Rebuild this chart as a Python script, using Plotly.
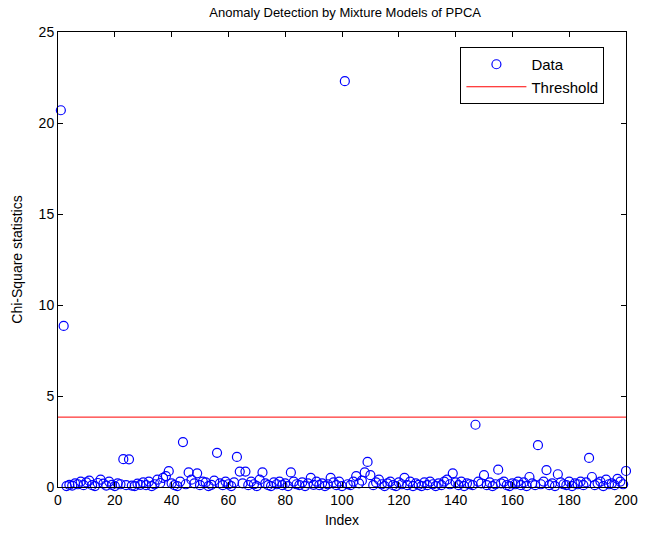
import plotly.graph_objects as go

index = list(range(1, 201))
chi_square = [
    20.7, 8.85, 0.05, 0.12, 0.08, 0.2, 0.15, 0.3, 0.1, 0.25,
    0.35, 0.1, 0.05, 0.22, 0.4, 0.18, 0.08, 0.3, 0.12, 0.05,
    0.2, 0.15, 1.53, 0.1, 1.52, 0.08, 0.05, 0.18, 0.12, 0.25,
    0.1, 0.3, 0.05, 0.15, 0.4, 0.22, 0.5, 0.6, 0.87, 0.2,
    0.1, 0.05, 0.3, 2.47, 0.15, 0.8, 0.4, 0.2, 0.75, 0.1,
    0.3, 0.25, 0.05, 0.12, 0.35, 1.88, 0.2, 0.1, 0.3, 0.15,
    0.05, 0.25, 1.65, 0.85, 0.2, 0.85, 0.1, 0.3, 0.15, 0.05,
    0.4, 0.8, 0.2, 0.1, 0.05, 0.25, 0.15, 0.3, 0.1, 0.2,
    0.05, 0.8, 0.3, 0.15, 0.1, 0.25, 0.05, 0.2, 0.5, 0.12,
    0.3, 0.1, 0.2, 0.05, 0.15, 0.5, 0.25, 0.1, 0.3, 0.05,
    22.3, 0.15, 0.1, 0.3, 0.6, 0.2, 0.35, 0.8, 1.38, 0.65,
    0.1, 0.25, 0.4, 0.15, 0.05, 0.2, 0.3, 0.1, 0.05, 0.25,
    0.15, 0.5, 0.1, 0.3, 0.05, 0.2, 0.12, 0.05, 0.25, 0.1,
    0.3, 0.15, 0.05, 0.2, 0.1, 0.3, 0.4, 0.15, 0.75, 0.25,
    0.1, 0.3, 0.05, 0.2, 0.15, 0.1, 3.42, 0.3, 0.2, 0.65,
    0.1, 0.25, 0.05, 0.15, 0.95, 0.2, 0.3, 0.1, 0.05, 0.2,
    0.15, 0.3, 0.1, 0.25, 0.05, 0.55, 0.2, 0.1, 2.3, 0.15,
    0.3, 0.93, 0.1, 0.2, 0.05, 0.7, 0.25, 0.15, 0.1, 0.3,
    0.05, 0.2, 0.15, 0.3, 0.1, 0.25, 1.6, 0.55, 0.1, 0.2,
    0.3, 0.05, 0.4, 0.15, 0.2, 0.1, 0.45, 0.3, 0.15, 0.88,
]
threshold_x = [0, 200]
threshold_value = 3.84

x_ticks = [0, 20, 40, 60, 80, 100, 120, 140, 160, 180, 200]
y_ticks = [0, 5, 10, 15, 20, 25]

font = "Liberation Sans, Arial, sans-serif"

fig = go.Figure()
fig.add_trace(go.Scatter(
    x=index, y=chi_square, mode="markers", name="Data", cliponaxis=False,
    marker=dict(symbol="circle-open", size=9, color="#0000ff", line=dict(width=1.2, color="#0000ff")),
))
fig.add_trace(go.Scatter(
    x=threshold_x, y=[threshold_value] * len(threshold_x), mode="lines", name="Threshold",
    line=dict(color="#ff0000", width=1),
))

axis_common = dict(
    showgrid=False, zeroline=False, showline=True, linecolor="black", linewidth=1,
    mirror="ticks", ticks="inside", ticklen=5, tickcolor="black",
    tickfont=dict(size=14, color="black", family=font),
)

fig.update_layout(
    width=650, height=538,
    margin=dict(l=58, r=18, t=32, b=49),
    paper_bgcolor="white", plot_bgcolor="white",
    font=dict(family=font, color="black", size=13),
    title=dict(text="Anomaly Detection by Mixture Models of PPCA", x=0.531, xanchor="center",
               y=0.977, yanchor="middle", font=dict(size=13, family=font, color="black")),
    xaxis=dict(range=[0, 200], tickvals=x_ticks, title=dict(text="Index", standoff=8,
               font=dict(size=14, family=font)), **axis_common),
    yaxis=dict(range=[0, 25], tickvals=y_ticks, title=dict(text="Chi-Square statistics", standoff=12,
               font=dict(size=14, family=font)), **axis_common),
    showlegend=True,
    legend=dict(x=0.962, xanchor="right", y=0.967, yanchor="top", bordercolor="black",
                borderwidth=1, bgcolor="white", itemwidth=60, tracegroupgap=4,
                font=dict(size=15, family=font)),
)

fig.write_html("out.html")
